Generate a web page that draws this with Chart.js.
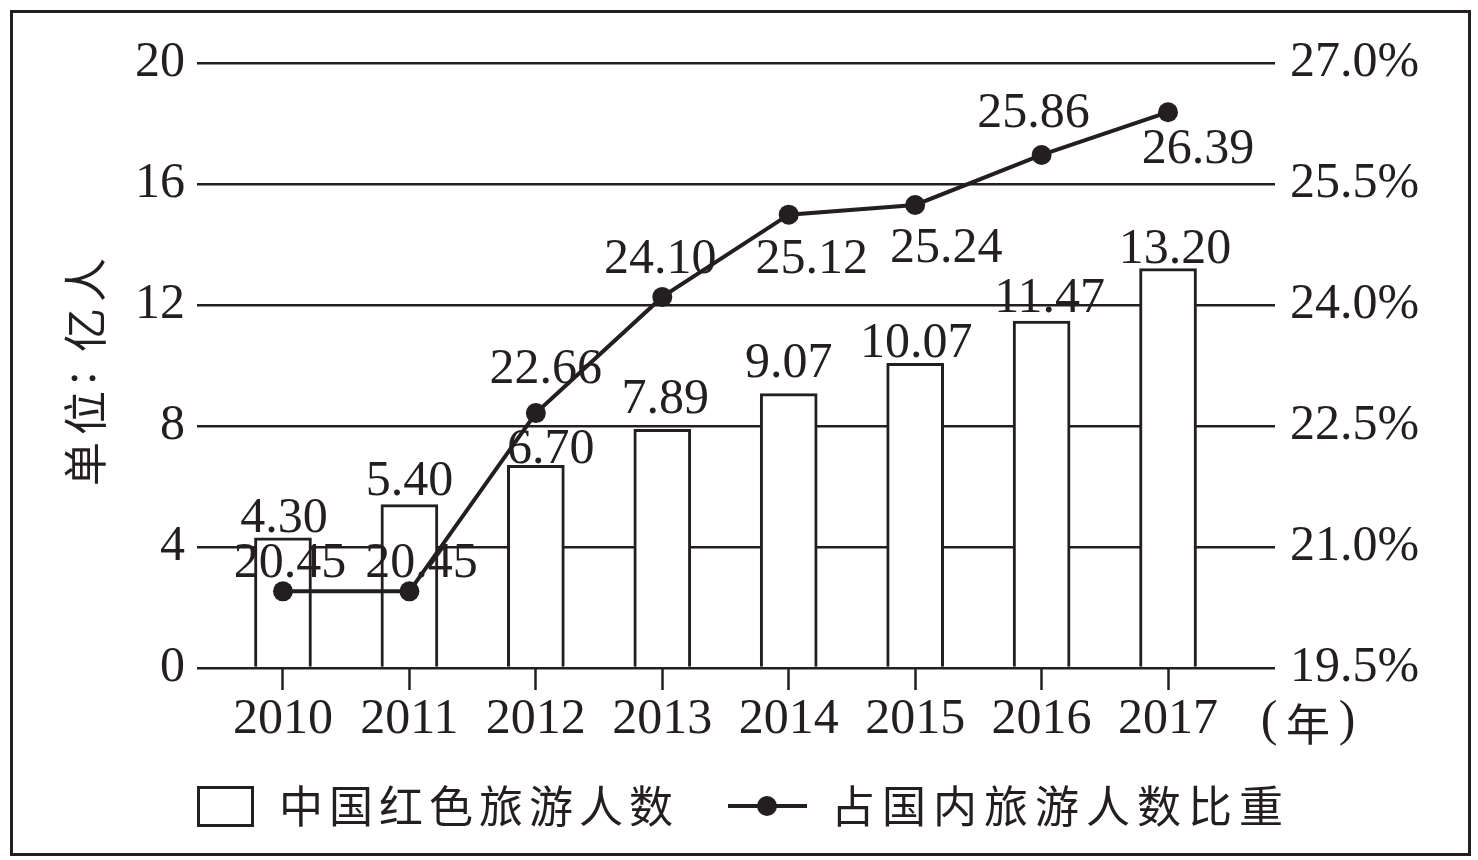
<!DOCTYPE html>
<html>
<head>
<meta charset="utf-8">
<script src="https://cdn.jsdelivr.net/npm/chart.js@4.4.0/dist/chart.umd.min.js"></script>
<style>
  html, body { margin: 0; padding: 0; background: #fff; }
  #wrap { width: 1478px; height: 860px; position: relative; }
</style>
</head>
<body>
<div id="wrap"><canvas id="chart"></canvas></div>
<script>
const years = [2010, 2011, 2012, 2013, 2014, 2015, 2016, 2017];
const redTourists = [4.30, 5.40, 6.70, 7.89, 9.07, 10.07, 11.47, 13.20];
const domesticShare = [20.45, 20.45, 22.66, 24.10, 25.12, 25.24, 25.86, 26.39];
const leftTicks = [0, 4, 8, 12, 16, 20];
const rightTicks = [19.5, 21.0, 22.5, 24.0, 25.5, 27.0];

const INK = '#231f20';
const SERIF = '"Liberation Serif", "Times New Roman", serif';
const CJK = '"Noto Sans CJK SC", sans-serif';

// small nudges so the value labels sit where the printed ones do
const barLabelDx = [1, 0, 15, 3, 0, 1, 8, 7];
const barLabelDy = [-6, -10, -2, -16, -17, -6, -9, -6];
const lineLabelDx = [7, 12, 10, -2, 23, 31, -8, 30];
const lineLabelDy = [-14, -14, -30, -24, 58, 57, -28, 51];

function spaced(ctx, text, cx, cy, pitch) {
    // draws CJK text one glyph at a time with a fixed pitch
    [...text].forEach((ch, i) => ctx.fillText(ch, cx + i * pitch, cy));
}

const decorations = {
    id: 'decorations',
    afterDraw(chart) {
        const ctx = chart.ctx;
        ctx.save();
        ctx.fillStyle = INK;
        ctx.strokeStyle = INK;

        // value labels
        ctx.font = '50px ' + SERIF;
        ctx.textAlign = 'center';
        ctx.textBaseline = 'alphabetic';
        chart.getDatasetMeta(0).data.forEach((bar, i) => {
            ctx.fillText(redTourists[i].toFixed(2), bar.x + barLabelDx[i], bar.y + barLabelDy[i]);
        });
        chart.getDatasetMeta(1).data.forEach((pt, i) => {
            ctx.fillText(domesticShare[i].toFixed(2), pt.x + lineLabelDx[i], pt.y + lineLabelDy[i]);
        });

        // (年) after the year axis
        ctx.textBaseline = 'middle';
        ctx.fillText('(', 1269, 722);
        ctx.fillText(')', 1347, 722);
        ctx.font = '44px ' + CJK;
        ctx.fillText('年', 1308, 724);

        // y title
        ctx.save();
        ctx.translate(85, 374);
        ctx.rotate(-Math.PI / 2);
        ctx.font = '44px ' + CJK;
        ctx.fillText('单', -90, 0);
        ctx.fillText('位', -39, 0);
        ctx.fillText('亿', 44, 0);
        ctx.fillText('人', 94, 0);
        ctx.font = '50px ' + SERIF;
        ctx.fillText(':', -4, -3);
        ctx.restore();

        // legend
        const sets = chart.data.datasets;
        ctx.lineWidth = 3;
        ctx.strokeRect(198.5, 787.5, 54, 38);
        ctx.font = '44px ' + CJK;
        spaced(ctx, sets[0].label, 301, 806, 50);

        ctx.lineWidth = 4;
        ctx.beginPath();
        ctx.moveTo(728, 806);
        ctx.lineTo(807, 806);
        ctx.stroke();
        ctx.beginPath();
        ctx.arc(767, 806, 10, 0, Math.PI * 2);
        ctx.fill();
        spaced(ctx, sets[1].label, 853, 806, 51);

        // outer frame
        ctx.lineWidth = 3;
        ctx.strokeRect(11.5, 11.5, 1458, 843);
        ctx.restore();
    }
};

new Chart(document.getElementById('chart'), {
    data: {
        datasets: [{
            type: 'bar',
            label: '中国红色旅游人数',
            data: years.map((y, i) => ({ x: y, y: redTourists[i] })),
            backgroundColor: '#ffffff',
            borderColor: INK,
            borderWidth: 3,
            barThickness: 57,
            yAxisID: 'y',
            order: 1,
        }, {
            type: 'line',
            label: '占国内旅游人数比重',
            data: years.map((y, i) => ({ x: y, y: domesticShare[i] })),
            borderColor: INK,
            borderWidth: 4,
            pointRadius: 10,
            pointBackgroundColor: INK,
            pointBorderWidth: 0,
            tension: 0,
            yAxisID: 'y1',
            order: 0,
        }]
    },
    options: {
        responsive: true,
        maintainAspectRatio: false,
        animation: false,
        events: [],
        layout: { padding: { top: 63, left: 0, right: 0, bottom: 0 } },
        plugins: {
            legend: { display: false },
            tooltip: { enabled: false },
        },
        scales: {
            x: {
                type: 'linear',
                offset: false,
                min: 2009.32,
                max: 2017.846,
                afterBuildTicks: s => { s.ticks = years.map(v => ({ value: v })); },
                afterFit: s => { s.height = 192; },
                ticks: {
                    autoSkip: false,
                    maxRotation: 0,
                    padding: 0,
                    color: INK,
                    font: { family: SERIF, size: 50 },
                    callback: v => String(v),
                },
                grid: {
                    offset: false,
                    drawOnChartArea: false,
                    drawTicks: true,
                    tickLength: 22,
                    tickWidth: 2.5,
                    tickColor: INK,
                },
                border: { display: false },
            },
            y: {
                position: 'left',
                min: leftTicks[0],
                max: leftTicks[leftTicks.length - 1],
                afterBuildTicks: s => { s.ticks = leftTicks.map(v => ({ value: v })); },
                afterFit: s => { s.width = 197; },
                ticks: {
                    padding: 12,
                    color: INK,
                    font: { family: SERIF, size: 50 },
                },
                grid: {
                    color: INK,
                    lineWidth: 2.5,
                    drawTicks: false,
                },
                border: { display: false },
            },
            y1: {
                position: 'right',
                min: rightTicks[0],
                max: rightTicks[rightTicks.length - 1],
                afterBuildTicks: s => { s.ticks = rightTicks.map(v => ({ value: v })); },
                afterFit: s => { s.width = 203; },
                ticks: {
                    padding: 15,
                    color: INK,
                    font: { family: SERIF, size: 50 },
                    callback: v => v.toFixed(1) + '%',
                },
                grid: { drawOnChartArea: false, drawTicks: false },
                border: { display: false },
            },
        },
    },
    plugins: [decorations],
});
</script>
</body>
</html>
